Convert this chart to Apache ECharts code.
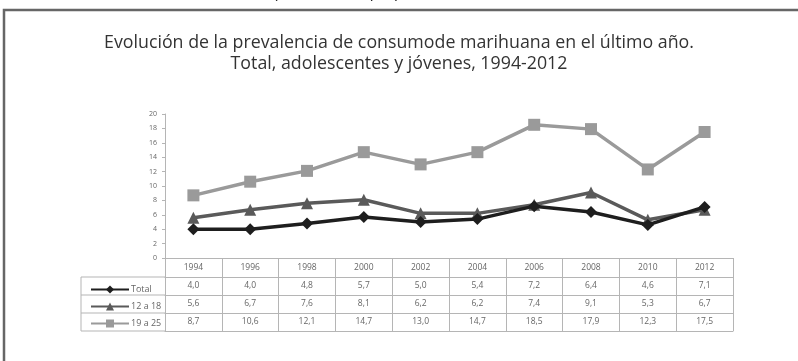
<!DOCTYPE html>
<html>
<head>
<meta charset="utf-8">
<script src="https://cdn.jsdelivr.net/npm/echarts@6/dist/echarts.min.js"></script>
<style>
html, body { margin: 0; padding: 0; background: #fff; }
#chart { width: 798px; height: 361px; }
</style>
</head>
<body>
<div id="chart"></div>
<script>
const years = ['1994', '1996', '1998', '2000', '2002', '2004', '2006', '2008', '2010', '2012']
const total = [4.0, 4.0, 4.8, 5.7, 5.0, 5.4, 7.2, 6.4, 4.6, 7.1]
const teens = [5.6, 6.7, 7.6, 8.1, 6.2, 6.2, 7.4, 9.1, 5.3, 6.7]
const youth = [8.7, 10.6, 12.1, 14.7, 13.0, 14.7, 18.5, 17.9, 12.3, 17.5]
const seriesNames = ['Total', '12 a 18', '19 a 25']
const yTicks = { min: 0, max: 20, step: 2 }

const gridColor = '#b5b5b5'
const textColor = '#666'
const fmt = v => v.toFixed(1).replace('.', ',')

// fila de la tabla bajo el eje: una xAxis extra por fila
function rowAxis(offset, values) {
    return {
        type: 'category',
        data: years,
        position: 'bottom',
        offset: offset,
        axisLine: { show: true, lineStyle: { color: gridColor, width: 1 } },
        axisTick: { show: false },
        axisLabel: {
            show: !!values,
            interval: 0,
            margin: 4,
            fontSize: 8.5,
            color: textColor,
            formatter: (v, i) => values ? fmt(values[i]) : ''
        }
    }
}

const option = {
    animation: false,
    textStyle: { fontFamily: 'Open Sans' },
    title: {
        text: 'Evolución de la prevalencia de consumode marihuana en el último año.\nTotal, adolescentes y jóvenes, 1994-2012',
        left: 'center',
        top: 27,
        textStyle: { fontSize: 17.8, fontWeight: 'normal', color: '#333', lineHeight: 21 }
    },
    graphic: [
        {
            type: 'text', left: -2, top: -14,
            style: { text: 'Fuente: Instituto Nacional de la Juventud (INJUV, 2013, p. 5)', fontSize: 15, fontStyle: 'italic', fill: '#222' }
        },
        {
            type: 'rect', shape: { x: 4, y: 10, width: 820, height: 400 },
            style: { fill: 'none', stroke: '#666', lineWidth: 2.5 }
        },
        // columna de leyenda de la tabla
        { type: 'line', shape: { x1: 81, y1: 277, x2: 165, y2: 277 }, style: { stroke: gridColor } },
        { type: 'line', shape: { x1: 81, y1: 295, x2: 165, y2: 295 }, style: { stroke: gridColor } },
        { type: 'line', shape: { x1: 81, y1: 313, x2: 165, y2: 313 }, style: { stroke: gridColor } },
        { type: 'line', shape: { x1: 81, y1: 331, x2: 165, y2: 331 }, style: { stroke: gridColor } },
        { type: 'line', shape: { x1: 81, y1: 277, x2: 81, y2: 331 }, style: { stroke: gridColor } }
    ],
    legend: {
        orient: 'vertical',
        left: 85,
        top: 280,
        itemWidth: 38,
        itemHeight: 10,
        itemGap: 8,
        data: seriesNames,
        textStyle: { fontSize: 9, color: textColor, padding: [0, 0, 0, -3] }
    },
    grid: { left: 165, right: 65, top: 114, bottom: 103 },
    xAxis: [
        {
            type: 'category',
            data: years,
            axisLine: { show: true, lineStyle: { color: gridColor, width: 1 } },
            axisTick: { show: true, inside: false, length: 73, lineStyle: { color: gridColor } },
            axisLabel: { interval: 0, margin: 5, fontSize: 8.5, color: textColor }
        },
        rowAxis(19, total),
        rowAxis(37, teens),
        rowAxis(55, youth),
        rowAxis(73, null)
    ],
    yAxis: {
        type: 'value',
        min: yTicks.min,
        max: yTicks.max,
        interval: yTicks.step,
        axisLine: { show: true, lineStyle: { color: gridColor } },
        axisTick: { show: true, length: 3, lineStyle: { color: gridColor } },
        splitLine: { show: false },
        axisLabel: { fontSize: 7, color: textColor, margin: 8 }
    },
    series: [
        {
            name: seriesNames[0], type: 'line', data: total,
            symbol: 'diamond', symbolSize: 12,
            lineStyle: { width: 3.5, color: '#1e1e1e' },
            itemStyle: { color: '#1e1e1e' }, z: 4
        },
        {
            name: seriesNames[1], type: 'line', data: teens,
            symbol: 'triangle', symbolSize: 12,
            lineStyle: { width: 3.5, color: '#5a5a5a' },
            itemStyle: { color: '#5a5a5a' }, z: 3
        },
        {
            name: seriesNames[2], type: 'line', data: youth,
            symbol: 'rect', symbolSize: 12,
            lineStyle: { width: 3.5, color: '#9a9a9a' },
            itemStyle: { color: '#9a9a9a' }, z: 2
        }
    ]
}

const myChart = echarts.init(document.getElementById('chart'))
myChart.setOption(option)
window.addEventListener('resize', function () {
    myChart.resize()
})
</script>
</body>
</html>
